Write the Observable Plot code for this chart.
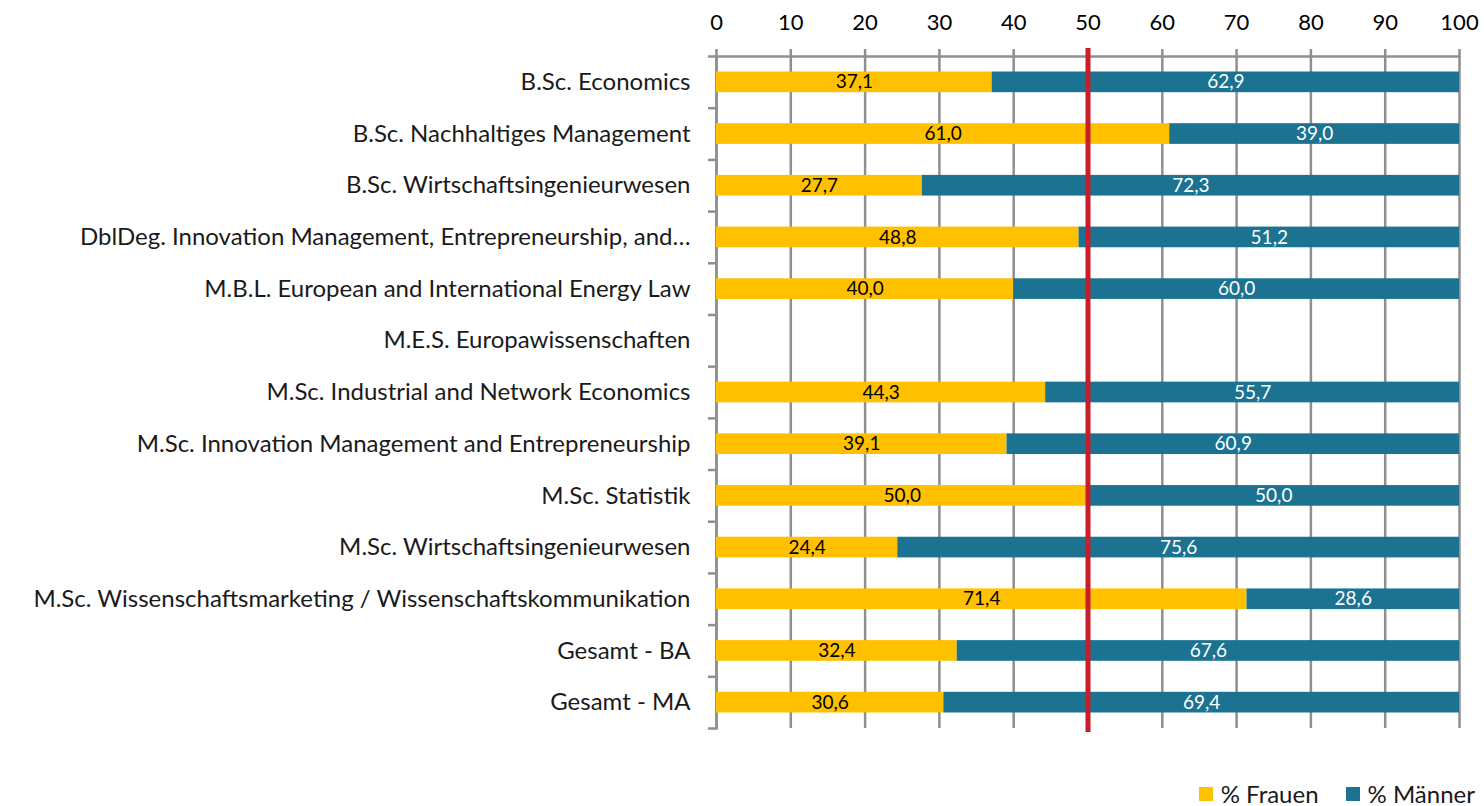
<!DOCTYPE html>
<html>
<head>
<meta charset="utf-8">
<script src="https://cdn.jsdelivr.net/npm/d3@7"></script>
<script src="https://cdn.jsdelivr.net/npm/@observablehq/plot@0.6"></script>
<style>
  html, body { margin: 0; background: #fff; font-family: Lato, "Open Sans", sans-serif; overflow: hidden; }
  #chart svg { display: block; }
  #legend { position: absolute; top: 780px; right: 9px; display: flex; align-items: center; height: 28px; line-height: 28px; font-size: 24px; color: #1a1a1a; }
  .item { display: flex; align-items: center; margin-left: 27px; }
  .sw { width: 14px; height: 14px; margin-right: 8px; }
</style>
</head>
<body>
<div id="chart"></div>
<div id="legend"></div>
<script>
const categories = [
  "B.Sc. Economics",
  "B.Sc. Nachhaltiges Management",
  "B.Sc. Wirtschaftsingenieurwesen",
  "DblDeg. Innovation Management, Entrepreneurship, and…",
  "M.B.L. European and International Energy Law",
  "M.E.S. Europawissenschaften",
  "M.Sc. Industrial and Network Economics",
  "M.Sc. Innovation Management and Entrepreneurship",
  "M.Sc. Statistik",
  "M.Sc. Wirtschaftsingenieurwesen",
  "M.Sc. Wissenschaftsmarketing / Wissenschaftskommunikation",
  "Gesamt - BA",
  "Gesamt - MA"
];
const frauen  = [37.1, 61.0, 27.7, 48.8, 40.0, null, 44.3, 39.1, 50.0, 24.4, 71.4, 32.4, 30.6];
const maenner = [62.9, 39.0, 72.3, 51.2, 60.0, null, 55.7, 60.9, 50.0, 75.6, 28.6, 67.6, 69.4];
const seriesNames = ["% Frauen", "% Männer"];
const seriesColors = ["#FFC000", "#1B7391"];
const xTicks = [0, 10, 20, 30, 40, 50, 60, 70, 80, 90, 100];
const referenceLine = [50];

const rows = [];
categories.forEach((c, i) => {
  if (frauen[i] != null) rows.push({cat: c, series: seriesNames[0], value: frauen[i]});
  if (maenner[i] != null) rows.push({cat: c, series: seriesNames[1], value: maenner[i]});
});
const fmt = v => v.toFixed(1).replace(".", ",");

const font = "Lato, 'Open Sans', sans-serif";
const W = 1484, H = 764;
const mTop = 56, mBottom = 36, mLeft = 716, mRight = 25;
const step = (H - mTop - mBottom) / categories.length;
const pxPerUnit = (W - mLeft - mRight) / 100;

const chart = Plot.plot({
  width: W,
  height: H,
  marginTop: mTop,
  marginBottom: mBottom,
  marginLeft: mLeft,
  marginRight: mRight,
  style: {fontFamily: font, background: "#fff"},
  x: {domain: [0, 100], axis: null},
  y: {domain: categories, paddingInner: 0.6, paddingOuter: 0.3, round: false, axis: null},
  color: {domain: seriesNames, range: seriesColors},
  marks: [
    Plot.ruleX(xTicks, {stroke: "#8f8f8f", strokeWidth: 2.5, insetTop: -7}),
    Plot.frame({anchor: "top", stroke: "#8f8f8f", strokeWidth: 2.5}),
    Plot.frame({anchor: "left", stroke: "#8f8f8f", strokeWidth: 2.5}),
    Plot.ruleY(categories, {y: d => d, dy: -step / 2, x1: 0, x2: -8 / pxPerUnit, stroke: "#8f8f8f", strokeWidth: 2.5}),
    Plot.ruleY(categories.slice(-1), {y: d => d, dy: step / 2, x1: 0, x2: -8 / pxPerUnit, stroke: "#8f8f8f", strokeWidth: 2.5}),
    Plot.axisX(xTicks, {anchor: "top", label: null, tickSize: 0, tickPadding: 27, fontSize: 22, fill: "#000", tickFormat: d => String(d)}),
    Plot.axisY({anchor: "left", label: null, tickSize: 0, tickPadding: 26, fontSize: 24, fill: "#1a1a1a", textAnchor: "end"}),
    Plot.barX(rows, {x: "value", y: "cat", fill: "series", order: seriesNames}),
    Plot.textX(rows, Plot.stackX({x: "value", y: "cat", z: "series", order: seriesNames,
      text: d => fmt(d.value),
      fill: d => d.series === seriesNames[0] ? "#000" : "#fff",
      fontSize: 19})),
    Plot.ruleX(referenceLine, {stroke: "#C81E2B", strokeWidth: 5, insetTop: -8, insetBottom: -4})
  ]
});
document.getElementById("chart").appendChild(chart);

const legend = document.getElementById("legend");
seriesNames.forEach((s, i) => {
  const it = document.createElement("div");
  it.className = "item";
  const sw = document.createElement("div");
  sw.className = "sw";
  sw.style.background = seriesColors[i];
  const t = document.createElement("span");
  t.textContent = s;
  it.appendChild(sw); it.appendChild(t);
  legend.appendChild(it);
});
</script>
</body>
</html>
